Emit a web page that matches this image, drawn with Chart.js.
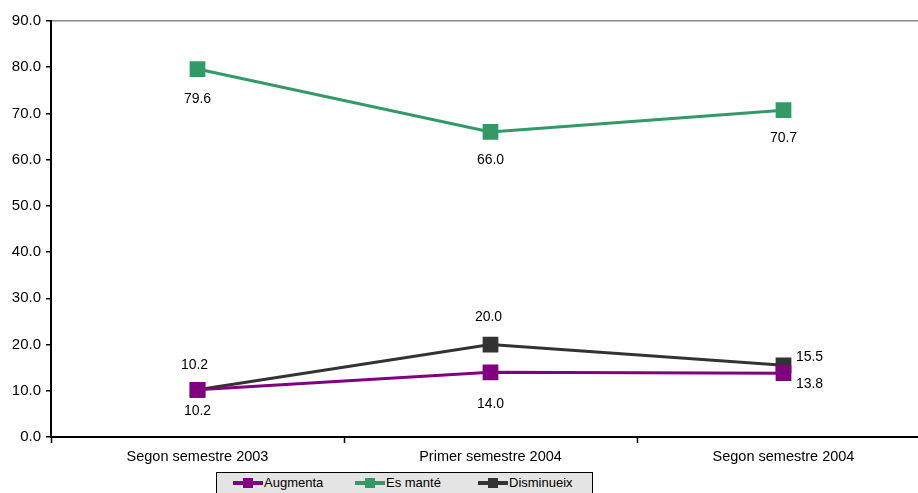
<!DOCTYPE html>
<html>
<head>
<meta charset="utf-8">
<script src="https://cdn.jsdelivr.net/npm/chart.js@4.4.0/dist/chart.umd.min.js"></script>
<style>
  html, body { margin: 0; padding: 0; background: #fff; overflow: hidden; }
  #wrap { position: relative; width: 942px; height: 493px; }
  #chart { display: block; width: 942px; height: 493px; }
  #legend {
    position: absolute; left: 216px; top: 472px; width: 377px; height: 24px;
    background: #e4e4e4; border: 1px solid #000; box-sizing: border-box;
    font: 13px "Liberation Sans", Arial, sans-serif; color: #000;
  }
  .item { position: absolute; top: 3px; display: flex; align-items: center; line-height: 14px; }
  .mark { position: relative; width: 30px; height: 12px; margin-right: 1px; }
  .mark .ln { position: absolute; left: 0; right: 0; top: 4px; height: 4px; }
  .mark .sq { position: absolute; left: 10px; top: 1px; width: 10px; height: 10px; }
</style>
</head>
<body>
<div id="wrap">
  <canvas id="chart" width="942" height="493"></canvas>
  <div id="legend"></div>
</div>
<script>
// dades
const categories = ['Segon semestre 2003', 'Primer semestre 2004', 'Segon semestre 2004'];
const augmenta = [10.2, 14.0, 13.8];
const esMante = [79.6, 66.0, 70.7];
const disminueix = [10.2, 20.0, 15.5];
const yTicks = [0, 10, 20, 30, 40, 50, 60, 70, 80, 90];

// posició de cada etiqueta respecte al punt [dx, dy]
const series = [
  { label: 'Augmenta', data: augmenta, color: '#800080', offs: [[0, 21], [0, 32], [26, 11]] },
  { label: 'Es manté', data: esMante, color: '#339966', offs: [[0, 30], [0, 28], [0, 28]] },
  { label: 'Disminueix', data: disminueix, color: '#333333', offs: [[-3, -25], [-2, -27], [26, -8]] }
];

const FONT = '"Liberation Sans", Arial, sans-serif';

// etiquetes de valor
const valueLabels = {
  id: 'valueLabels',
  afterDatasetsDraw(chart) {
    const c = chart.ctx;
    c.save();
    c.font = '14px ' + FONT;
    c.fillStyle = '#000';
    c.textAlign = 'center';
    c.textBaseline = 'middle';
    chart.data.datasets.forEach((ds, i) => {
      const meta = chart.getDatasetMeta(i);
      meta.data.forEach((pt, j) => {
        const o = series[i].offs[j];
        c.fillText(ds.data[j].toFixed(1), pt.x + o[0], pt.y + o[1]);
      });
    });
    c.restore();
  }
};

new Chart(document.getElementById('chart'), {
  type: 'line',
  data: {
    labels: categories,
    datasets: series.map(s => ({
      label: s.label,
      data: s.data,
      borderColor: s.color,
      backgroundColor: s.color,
      borderWidth: 3,
      pointStyle: 'rect',
      pointRadius: 9,
      pointHoverRadius: 9,
      tension: 0
    }))
  },
  options: {
    responsive: false,
    animation: false,
    layout: { padding: { top: 21, right: 0, bottom: 0, left: 0 } },
    plugins: { legend: { display: false }, tooltip: { enabled: false } },
    scales: {
      x: {
        offset: true,
        grid: { offset: true, drawOnChartArea: false, tickLength: 6, color: '#000', tickWidth: 1.5 },
        border: { color: '#000', width: 2 },
        ticks: { color: '#000', font: { family: FONT, size: 14.5 }, padding: 5, maxRotation: 0 },
        afterFit(s) { s.height = 56; }
      },
      y: {
        min: 0, max: 90,
        afterBuildTicks(s) { s.ticks = yTicks.map(v => ({ value: v })); },
        grid: {
          color: ctx => (ctx.tick && ctx.tick.value === 90 ? '#888' : 'rgba(0,0,0,0)'),
          tickColor: '#000', tickLength: 5, lineWidth: 1.5
        },
        border: { color: '#000', width: 2 },
        ticks: {
          color: '#000', font: { family: FONT, size: 15 }, padding: 5,
          callback: v => Number(v).toFixed(1)
        },
        afterFit(s) { s.width = 51; }
      }
    }
  },
  plugins: [valueLabels]
});

// llegenda
const lg = document.getElementById('legend');
const lefts = [16, 138, 261];
series.forEach((s, i) => {
  const it = document.createElement('div');
  it.className = 'item';
  it.style.left = lefts[i] + 'px';
  it.innerHTML = '<span class="mark"><span class="ln" style="background:' + s.color + '"></span>' +
    '<span class="sq" style="background:' + s.color + '"></span></span>' + s.label;
  lg.appendChild(it);
});
</script>
</body>
</html>
